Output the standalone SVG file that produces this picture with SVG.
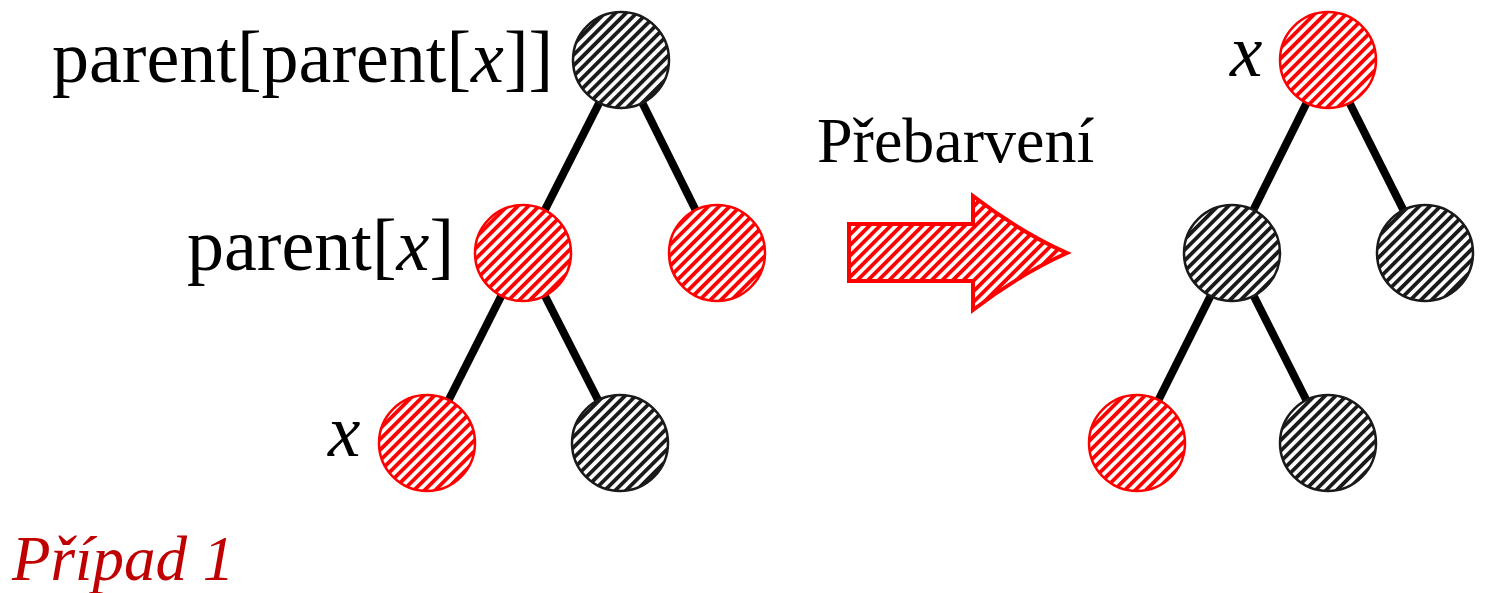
<svg xmlns="http://www.w3.org/2000/svg" width="1490" height="593" viewBox="0 0 1490 593">
  <style>
    .edge { stroke: #000; stroke-width: 8; fill: none; }
    .red { fill: url(#hatchRed); stroke: #ff0000; stroke-width: 2.5; }
    .black { fill: url(#hatchBlack); stroke: #1a1a1a; stroke-width: 2.5; }
    .lbl { font-family: "Liberation Serif", "Times New Roman", serif; fill: #000; }
    .it { font-style: italic; }
  </style>
  <defs>
    <pattern id="hatchRed" patternUnits="userSpaceOnUse" width="7.5" height="7.5" patternTransform="rotate(-45)">
      <rect width="7.5" height="7.5" fill="#fff"/>
      <rect width="7.5" height="3.8" fill="#ff0000"/>
    </pattern>
    <pattern id="hatchBlack" patternUnits="userSpaceOnUse" width="7.5" height="7.5" patternTransform="rotate(-45)">
      <rect width="7.5" height="7.5" fill="#fff"/>
      <rect width="7.5" height="3.8" fill="#1a1a1a"/>
    </pattern>
  </defs>

  <!-- tree edges -->
  <g id="connectors">
    <line class="edge" x1="621" y1="60" x2="523" y2="253"/>
    <line class="edge" x1="621" y1="60" x2="717" y2="253"/>
    <line class="edge" x1="523" y1="253" x2="427" y2="443"/>
    <line class="edge" x1="523" y1="253" x2="620" y2="443"/>
    <line class="edge" x1="1328" y1="60" x2="1232" y2="253"/>
    <line class="edge" x1="1328" y1="60" x2="1425" y2="253"/>
    <line class="edge" x1="1232" y1="253" x2="1137" y2="443"/>
    <line class="edge" x1="1232" y1="253" x2="1328" y2="443"/>
  </g>

  <!-- left tree -->
  <g id="grandparent"><circle class="black" cx="621" cy="60" r="48"/></g>
  <g id="parent"><circle class="red" cx="523" cy="253" r="48"/></g>
  <g id="uncle"><circle class="red" cx="717" cy="253" r="48"/></g>
  <g id="x-node"><circle class="red" cx="427" cy="443" r="48"/></g>
  <g id="sibling"><circle class="black" cx="620" cy="443" r="48"/></g>

  <!-- right tree -->
  <g id="r-top"><circle class="red" cx="1328" cy="60" r="48"/></g>
  <g id="r-left"><circle class="black" cx="1232" cy="253" r="48"/></g>
  <g id="r-right"><circle class="black" cx="1425" cy="253" r="48"/></g>
  <g id="r-leaf-left"><circle class="red" cx="1137" cy="443" r="48"/></g>
  <g id="r-leaf-right"><circle class="black" cx="1328" cy="443" r="48"/></g>

  <!-- recolouring arrow -->
  <g id="arrow">
    <path d="M849,224 L973,224 L973,196 Q1020,232 1067,253 Q1020,274 973,310 L973,281 L849,281 Z"
          fill="url(#hatchRed)" stroke="#ff0000" stroke-width="4" stroke-linejoin="miter"/>
  </g>

  <!-- labels -->
  <g id="labels">
    <text class="lbl" x="52" y="82" font-size="74">parent[parent[<tspan class="it">x</tspan>]]</text>
    <text class="lbl" x="187" y="270" font-size="74">parent[<tspan class="it">x</tspan>]</text>
    <text class="lbl it" x="328" y="456" font-size="73">x</text>
    <text class="lbl it" x="1230" y="76" font-size="73">x</text>
    <text class="lbl" x="817" y="162" font-size="64">Přebarvení</text>
    <text class="it" x="12" y="580" font-size="63" font-family="Liberation Serif, Times New Roman, serif" fill="#c00000">Případ 1</text>
  </g>
</svg>
